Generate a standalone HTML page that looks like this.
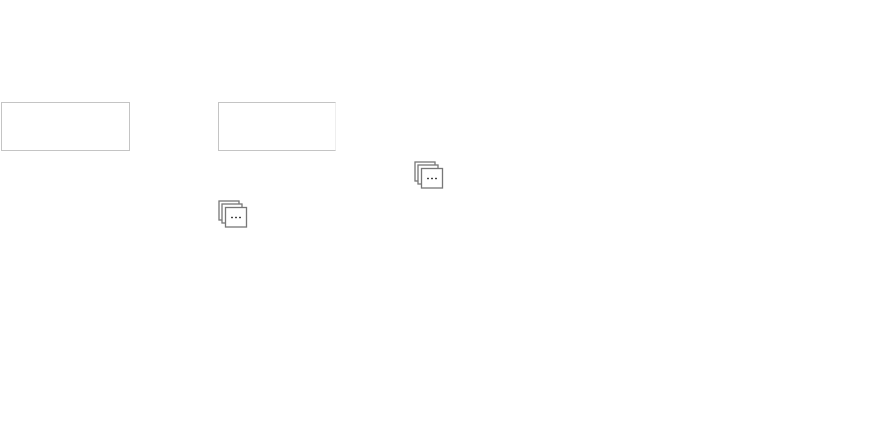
<!DOCTYPE html>
<html><head><style>
html,body{margin:0;padding:0;background:#fff;width:887px;height:428px;overflow:hidden;position:relative}
.b{position:absolute;border:1px solid #c4c4c4;background:#fff;box-sizing:border-box}
</style></head><body>
<div class="b" style="left:1px;top:102px;width:129px;height:49px"></div>
<div class="b" style="left:218px;top:102px;width:118px;height:49px;border-right-color:#eee"></div>
<svg width="887" height="428" style="position:absolute;left:0;top:0">
<g id="i" fill="#fff" stroke="#777" stroke-width="1.3">
<rect x="415" y="162" width="20" height="19"/>
<rect x="418" y="165" width="20" height="19"/>
<rect x="421.5" y="168.5" width="21" height="19.5"/>
<g stroke="#444" stroke-width="1.4"><line x1="427" y1="178.5" x2="429" y2="178.5"/><line x1="431" y1="178.5" x2="433" y2="178.5"/><line x1="435" y1="178.5" x2="437" y2="178.5"/></g>
</g>
<use href="#i" transform="translate(-196,39)"/>
</svg>
</body></html>
